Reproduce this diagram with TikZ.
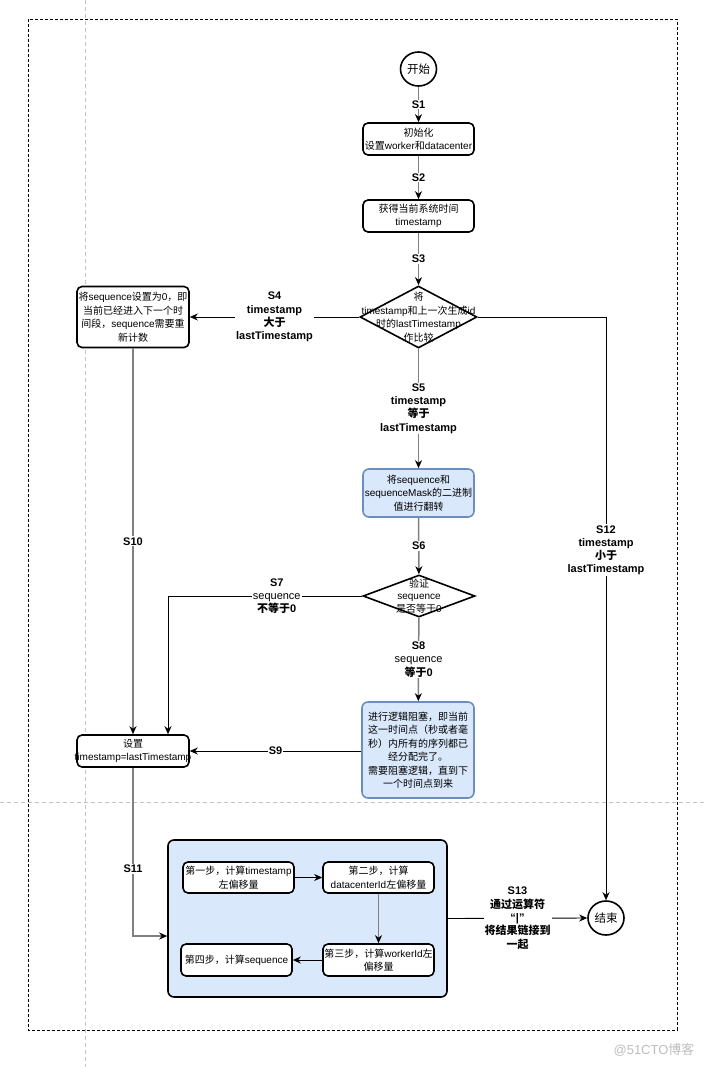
\documentclass[tikz,border=0pt]{standalone}
\usepackage{fontspec}
\setmainfont{Liberation Sans}
\newfontfamily\latfont{Liberation Sans}
\newfontfamily\cjkfont{Noto Sans CJK SC}
\usetikzlibrary{arrows.meta,shapes.geometric}
\newcount\cjkcnt
\cjkcnt="4E00
\loop\ifnum\cjkcnt<"A000 \XeTeXcharclass\cjkcnt=1 \advance\cjkcnt by 1 \repeat
\cjkcnt="3000
\loop\ifnum\cjkcnt<"3040 \XeTeXcharclass\cjkcnt=1 \advance\cjkcnt by 1 \repeat
\cjkcnt="FF00
\loop\ifnum\cjkcnt<"FFF0 \XeTeXcharclass\cjkcnt=1 \advance\cjkcnt by 1 \repeat
\XeTeXinterchartokenstate=1
\XeTeXinterchartoks 0 1 = {\cjkfont}
\XeTeXinterchartoks 4095 1 = {\cjkfont}
\XeTeXinterchartoks 1 0 = {\latfont}
\XeTeXinterchartoks 1 4095 = {\latfont}
\definecolor{bluefill}{HTML}{DAE8FC}
\definecolor{blueedge}{HTML}{6C8EBF}
\definecolor{linegray}{HTML}{808080}
\definecolor{guidegray}{HTML}{C4C4C4}
\definecolor{wmgray}{HTML}{BDBDBD}
\tikzset{
  box/.style={draw=black, line width=1.6pt, rounded corners=5pt, fill=white, inner sep=0pt},
  bluebox/.style={draw=blueedge, line width=1.6pt, rounded corners=6pt, fill=bluefill, inner sep=0pt},
  term/.style={draw=black, line width=1.6pt, ellipse, fill=white, minimum width=36pt, minimum height=34pt, inner sep=0pt},
  decide/.style={draw=black, line width=1.6pt, diamond, fill=white, inner sep=0pt},
  txt/.style={align=center, font=\fontsize{10}{13.5}\selectfont, inner sep=0pt},
  lbl/.style={align=center, font=\bfseries\fontsize{11}{13.3}\selectfont, fill=white, inner sep=1pt},
  arr/.style={draw=black, line width=0.9pt, -{Stealth[length=8pt,width=7pt,inset=2.5pt]}},
  garr/.style={draw=linegray, line width=1.5pt, -{Stealth[length=8pt,width=7pt,inset=2.5pt,color=black]}},
  guide/.style={draw=guidegray, line width=0.7pt, dash pattern=on 4pt off 3pt},
  outer/.style={draw=black, line width=0.8pt, dash pattern=on 3pt off 2pt},
}
\begin{document}
\begin{tikzpicture}[x=1pt,y=-1pt]
\useasboundingbox (0,0) rectangle (707,1067);
\draw[guide] (85,0) -- (85,1067);
\draw[guide] (0,802) -- (707,802);
\draw[outer] (28,19) rectangle (677,1030);

% nodes
\node[term] (start) at (418.5,69) {};
\node[txt, font=\fontsize{11.5}{13.5}\selectfont] at (start) {开始};
\node[box, minimum width=111pt, minimum height=32pt] (b1) at (418.5,139) {};
\node[txt] at (b1) {初始化\\设置worker和datacenter};
\node[box, minimum width=111pt, minimum height=32pt] (b2) at (418.5,216) {};
\node[txt] at (b2) {获得当前系统时间\\timestamp};
\node[decide, minimum width=117pt, minimum height=62pt] (d1) at (418.5,317) {};
\node[txt] at (d1) {将\\timestamp和上一次生成id\\时的lastTimestamp\\作比较};
\node[box, minimum width=112pt, minimum height=61pt] (lbox) at (133,317) {};
\node[txt] at (lbox) {将sequence设置为0，即\\当前已经进入下一个时\\间段，sequence需要重\\新计数};
\node[bluebox, minimum width=111pt, minimum height=48pt] (blue1) at (418.5,493) {};
\node[txt] at (blue1) {将sequence和\\sequenceMask的二进制\\值进行翻转};
\node[decide, minimum width=112pt, minimum height=42pt] (d2) at (419,596) {};
\node[txt, font=\fontsize{10}{12.5}\selectfont] at (d2) {验证\\sequence\\是否等于0};
\node[bluebox, minimum width=112pt, minimum height=96pt] (block) at (418,750) {};
\node[txt] at (block) {进行逻辑阻塞，即当前\\这一时间点（秒或者毫\\秒）内所有的序列都已\\经分配完了。\\需要阻塞逻辑，直到下\\一个时间点到来};
\node[box, minimum width=112pt, minimum height=32pt] (set) at (133,751) {};
\node[txt] at (set) {设置\\timestamp=lastTimestamp};
\node[bluebox, draw=black, rounded corners=6pt, minimum width=279pt, minimum height=157pt] (cont) at (307.5,918.5) {};
\node[box, minimum width=111pt, minimum height=31pt] (i1) at (238.5,877.5) {};
\node[txt] at (i1) {第一步，计算timestamp\\左偏移量};
\node[box, minimum width=111pt, minimum height=31pt] (i2) at (378.5,877.5) {};
\node[txt] at (i2) {第二步，计算\\datacenterId左偏移量};
\node[box, minimum width=111pt, minimum height=32pt] (i3) at (378.5,960) {};
\node[txt] at (i3) {第三步，计算workerId左\\偏移量};
\node[box, minimum width=111pt, minimum height=32pt] (i4) at (236.5,960) {};
\node[txt] at (i4) {第四步，计算sequence};
\node[term] (stop) at (606,918) {};
\node[txt, font=\fontsize{11.5}{13.5}\selectfont] at (stop) {结束};

% connectors
\draw[garr] (start) -- node[lbl] {S1} (b1);
\draw[garr] (b1) -- node[lbl] {S2} (b2);
\draw[garr] (b2) -- node[lbl] {S3} (d1);
\draw[arr] (d1.west) -- node[lbl] {S4\\timestamp\\大于\\lastTimestamp} (lbox.east);
\draw[garr] (d1) -- node[lbl] {S5\\timestamp\\等于\\lastTimestamp} (blue1);
\draw[garr] (blue1) -- node[lbl] {S6} (d2);
\draw[arr] (d2.west) -| node[lbl, pos=0.22] {S7\\\mdseries sequence\\不等于0} ([xshift=35pt]set.north);
\draw[garr] (d2) -- node[lbl] {S8\\\mdseries sequence\\等于0} (block);
\draw[arr] (set.east -| block.west) -- node[lbl] {S9} (set.east);
\draw[garr] (lbox) -- node[lbl] {S10} (set);
\draw[garr] (set.south) |- node[lbl, pos=0.3] {S11} ([yshift=-17.5pt]cont.west);
\draw[arr] (d1.east) -| node[lbl, pos=0.7] {S12\\timestamp\\小于\\lastTimestamp} (stop.north);
\draw[arr] (cont.east) -- node[lbl] {S13\\通过运算符\\“|”\\将结果链接到\\一起} (stop.west);
\draw[arr] (i1) -- (i2);
\draw[garr] (i2) -- (i3);
\draw[arr] (i3) -- (i4);

\node[font=\fontsize{13}{15}\selectfont, text=wmgray, inner sep=0pt] (wm) at (654,1050) {@51CTO博客};
\end{tikzpicture}
\end{document}
